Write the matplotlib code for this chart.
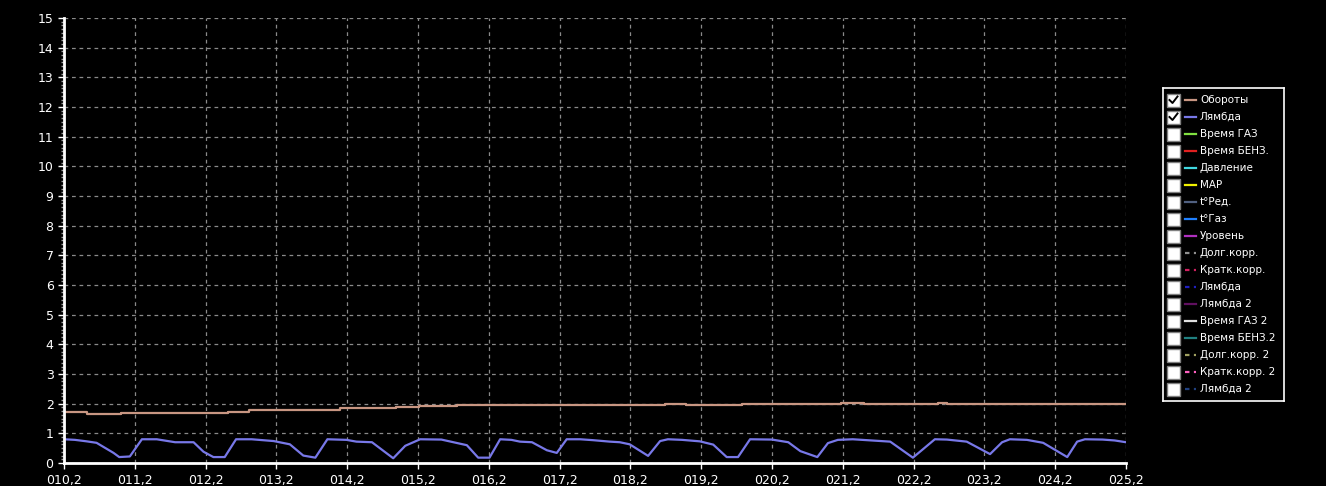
import matplotlib
matplotlib.use("Agg")
import matplotlib.pyplot as plt
from matplotlib.patches import Rectangle
from matplotlib.ticker import MultipleLocator, FuncFormatter

# Lambda trace (time, value)
lambda_t = [10.2, 10.355, 10.52, 10.66, 10.90, 10.98, 11.13, 11.30, 11.51, 11.77,
            12.03, 12.17, 12.31, 12.47, 12.63, 12.85, 13.16, 13.39, 13.58, 13.75,
            13.92, 14.19, 14.33, 14.55, 14.85, 15.02, 15.23, 15.53, 15.89, 16.05,
            16.21, 16.36, 16.52, 16.64, 16.81, 17.02, 17.16, 17.30, 17.49, 17.67,
            17.91, 18.05, 18.19, 18.45, 18.62, 18.73, 18.93, 19.18, 19.37, 19.56,
            19.72, 19.89, 20.20, 20.43, 20.60, 20.84, 20.99, 21.13, 21.34, 21.87,
            22.19, 22.50, 22.67, 22.95, 23.28, 23.45, 23.56, 23.80, 24.03, 24.37,
            24.51, 24.62, 24.87, 25.04, 25.2]
lambda_v = [0.80, 0.78, 0.73, 0.68, 0.34, 0.20, 0.22, 0.80, 0.80, 0.70,
            0.70, 0.38, 0.20, 0.20, 0.80, 0.80, 0.74, 0.63, 0.25, 0.18,
            0.80, 0.78, 0.72, 0.70, 0.16, 0.58, 0.80, 0.79, 0.60, 0.18,
            0.18, 0.80, 0.78, 0.72, 0.70, 0.43, 0.34, 0.80, 0.80, 0.77,
            0.72, 0.70, 0.63, 0.24, 0.74, 0.80, 0.78, 0.73, 0.62, 0.20,
            0.20, 0.80, 0.79, 0.70, 0.40, 0.20, 0.67, 0.78, 0.80, 0.72,
            0.18, 0.80, 0.79, 0.72, 0.30, 0.70, 0.80, 0.78, 0.68, 0.20,
            0.72, 0.80, 0.79, 0.76, 0.70]

# RPM trace (step changes)
rpm_t = [10.2, 10.53, 11.0, 12.52, 12.82, 13.43, 14.1, 14.89, 15.22, 15.75,
         16.36, 18.69, 18.98, 19.78, 21.17, 21.5, 22.54, 22.67, 25.2]
rpm_v = [1.71, 1.66, 1.70, 1.73, 1.77, 1.80, 1.84, 1.88, 1.91, 1.94,
         1.96, 2.00, 1.96, 2.00, 2.03, 2.00, 2.03, 2.00, 2.00]

legend_names = ["Обороты", "Лямбда", "Время ГАЗ", "Время БЕНЗ.", "Давление", "MAP",
                "t°Ред.", "t°Газ", "Уровень", "Долг.корр.", "Кратк.корр.", "Лямбда",
                "Лямбда 2", "Время ГАЗ 2", "Время БЕНЗ.2", "Долг.корр. 2",
                "Кратк.корр. 2", "Лямбда 2"]
legend_colors = ["#c89682", "#7878e8", "#80e040", "#e02020", "#40d8e0", "#f0f000",
                 "#506080", "#2080ff", "#b030c0", "#909090", "#d02060", "#2020c0",
                 "#601060", "#e0e0e0", "#208080", "#a0a060", "#ff60c0", "#204080"]
legend_dashed = [False] * 9 + [True, True, True, False, False, False, True, True, True]
legend_checked = [True, True] + [False] * 16

W, H = 1326, 486
fig = plt.figure(figsize=(W / 100, H / 100), dpi=100, facecolor="black")
ax = fig.add_axes([64 / W, 23 / H, (1126 - 64) / W, (463 - 18) / H], facecolor="black")

ax.plot(rpm_t, rpm_v, color=legend_colors[0], lw=1.6, drawstyle="steps-post")
ax.plot(lambda_t, lambda_v, color=legend_colors[1], lw=1.6)

ax.set_xlim(10.2, 25.2)
ax.set_ylim(0, 15)
ax.xaxis.set_major_locator(MultipleLocator(1.0, offset=0.2))
ax.yaxis.set_major_locator(MultipleLocator(1))
ax.yaxis.set_minor_locator(MultipleLocator(0.125))
ax.xaxis.set_major_formatter(FuncFormatter(lambda v, p: ("%05.1f" % v).replace(".", ",")))
ax.grid(True, which="major", color="#8a8a8a", linestyle=(0, (3, 3)), lw=0.9)

for s in ["top", "right"]:
    ax.spines[s].set_visible(False)
for s in ["left", "bottom"]:
    ax.spines[s].set_color("white")
    ax.spines[s].set_linewidth(2)
ax.tick_params(axis="both", which="major", colors="white", labelsize=9, length=4, width=1)
ax.tick_params(axis="y", which="minor", colors="#a0a0a0", length=2, width=1)
ax.tick_params(axis="x", pad=4)

# legend panel with checkboxes
lx0, lx1, ly0, ly1 = 1163, 1284, 88, 401
lax = fig.add_axes([lx0 / W, 1 - ly1 / H, (lx1 - lx0) / W, (ly1 - ly0) / H])
lax.set_xlim(lx0, lx1)
lax.set_ylim(ly1, ly0)
lax.set_facecolor("black")
lax.set_xticks([])
lax.set_yticks([])
for s in lax.spines.values():
    s.set_color("white")
    s.set_linewidth(1.2)

for i, name in enumerate(legend_names):
    yc = 100 + 17 * i
    lax.add_patch(Rectangle((1167, yc - 6.5), 13, 13, facecolor="white",
                            edgecolor="#808080", lw=1))
    if legend_checked[i]:
        lax.plot([1169.5, 1172.5, 1177.5], [yc, yc + 3, yc - 3.5], color="black", lw=1.4)
    ls = (0, (2, 2)) if legend_dashed[i] else "-"
    lax.plot([1185, 1196], [yc, yc], color=legend_colors[i], lw=1.6, linestyle=ls)
    lax.text(1200, yc, name, color="white", fontsize=7.5, va="center", ha="left")

fig.savefig("out.png", dpi=100, facecolor="black")
